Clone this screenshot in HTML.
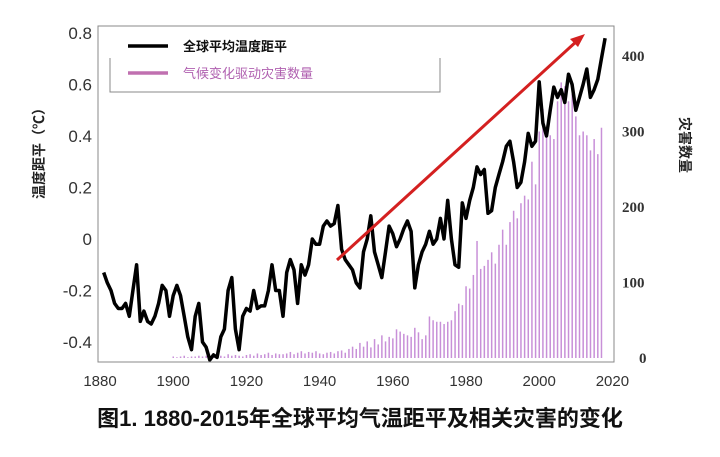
<!DOCTYPE html>
<html><head><meta charset="utf-8"><style>
body{margin:0;background:#fff;width:720px;height:452px;overflow:hidden;font-family:"Liberation Sans","Noto Sans CJK SC",sans-serif}
</style></head><body>
<svg width="720" height="452" xmlns="http://www.w3.org/2000/svg">
<g id="bars"></g>
<polyline id="temp" fill="none" stroke="#000" stroke-width="3.5" stroke-linejoin="round"/>
<line x1="337" y1="260" x2="578" y2="40" stroke="#d42020" stroke-width="3"/>
<polygon points="585,34 570,39 578,47" fill="#d42020"/>
<path d="M98,26 H614 V362 H98 Z" fill="none" stroke="#888" stroke-width="1"/>
<path d="M110,58 V92 H440 V58" fill="none" stroke="#888" stroke-width="1"/>
<line x1="128" y1="46" x2="168" y2="46" stroke="#000" stroke-width="3.5"/>
<text x="183" y="51" font-size="13" font-weight="bold" fill="#111" font-family="Noto Sans CJK SC,sans-serif">全球平均温度距平</text>
<line x1="128" y1="73" x2="168" y2="73" stroke="#c070b0" stroke-width="3.5"/>
<text x="183" y="78" font-size="13" fill="#b060b0" font-family="Noto Sans CJK SC,sans-serif">气候变化驱动灾害数量</text>
<g id="yl" font-size="17" fill="#333" text-anchor="end"></g>
<g id="yr" font-size="15" fill="#333" font-weight="bold" font-family="Liberation Serif,serif"></g>
<g id="xl" font-size="15" fill="#333" text-anchor="middle"></g>
<text transform="translate(44,150) rotate(-90)" text-anchor="middle" font-size="14" font-weight="bold" fill="#222" font-family="Noto Sans CJK SC,sans-serif">温度距平（℃）</text>
<text transform="translate(680,145) rotate(90)" text-anchor="middle" font-size="14" font-weight="bold" fill="#222" font-family="Noto Sans CJK SC,sans-serif">灾害数量</text>
<text x="360" y="426" text-anchor="middle" font-size="22" font-weight="bold" fill="#111" font-family="Liberation Sans,Noto Sans CJK SC,sans-serif">图1. 1880-2015年全球平均气温距平及相关灾害的变化</text>
</svg>
<script>
const tempStart=1881;
const tempValues=[-0.13,-0.17,-0.2,-0.25,-0.27,-0.27,-0.25,-0.3,-0.2,-0.1,
-0.32,-0.28,-0.32,-0.33,-0.3,-0.25,-0.18,-0.2,-0.3,-0.22,
-0.18,-0.22,-0.3,-0.38,-0.43,-0.3,-0.25,-0.4,-0.42,-0.47,
-0.45,-0.46,-0.38,-0.35,-0.2,-0.15,-0.35,-0.43,-0.3,-0.27,
-0.28,-0.2,-0.27,-0.26,-0.26,-0.2,-0.1,-0.2,-0.2,-0.3,
-0.13,-0.08,-0.12,-0.25,-0.1,-0.14,-0.1,0.0,-0.02,-0.02,
0.05,0.07,0.05,0.06,0.13,
-0.04,-0.08,-0.1,-0.12,-0.17,-0.19,-0.05,0.0,0.09,-0.05,
-0.1,-0.15,-0.05,0.05,0.02,-0.03,0.0,0.04,0.07,0.03,
-0.19,-0.1,-0.05,-0.02,0.03,-0.02,0.0,0.08,0.0,0.15,
0.0,-0.1,-0.11,0.14,0.08,0.15,0.2,0.28,0.25,0.27,
0.1,0.11,0.2,0.25,0.3,0.36,0.38,0.3,0.2,0.22,
0.3,0.41,0.36,0.38,0.61,0.45,0.4,0.5,0.59,0.55,
0.58,0.53,0.64,0.6,0.5,0.55,0.6,0.66,0.55,0.58,
0.62,0.7,0.78];
const disasterStart=1900;
const disasterValues=[2,1,2,3,1,2,2,3,2,3,3,2,4,3,2,5,3,4,3,2,4,5,3,6,4,5,7,4,6,5,5,6,8,5,7,9,6,8,7,9,6,5,7,8,6,9,10,7,12,15,
12,20,15,22,14,25,18,30,22,28,26,38,35,32,30,28,40,34,25,30,55,50,48,48,45,48,50,62,72,70,
95,92,110,155,118,122,130,140,125,150,170,150,180,195,185,205,215,210,260,230,
300,330,300,295,290,340,365,360,340,350,320,295,300,295,275,290,270,305];
const leftTicks=[0.8,0.6,0.4,0.2,0,-0.2,-0.4];
const leftTickLabels=["0.8","0.6","0.4","0.2","0","-0.2","-0.4"];
const rightTicks=[400,300,200,100,0];
const xTicks=[1880,1900,1920,1940,1960,1980,2000,2020];
const NS='http://www.w3.org/2000/svg';
const x=yr=>100+(yr-1880)*3.66;
const yL=v=>239-v*257.5;
const yR=v=>358-v*0.755;
const bars=document.getElementById('bars');
disasterValues.forEach((v,i)=>{const r=document.createElementNS(NS,'rect');
r.setAttribute('x',x(disasterStart+i)-0.7);r.setAttribute('y',yR(v));r.setAttribute('width',1.5);r.setAttribute('height',358-yR(v));
r.setAttribute('fill','#c890d8');


bars.appendChild(r);});
document.getElementById('temp').setAttribute('points',tempValues.map((v,i)=>x(tempStart+i).toFixed(1)+','+yL(v).toFixed(1)).join(' '));
const yl=document.getElementById('yl');
leftTicks.forEach((t,i)=>{const e=document.createElementNS(NS,'text');e.setAttribute('x',92);e.setAttribute('y',yL(t)+6);e.textContent=leftTickLabels[i];


yl.appendChild(e);});
const yr=document.getElementById('yr');
rightTicks.forEach(t=>{const e=document.createElementNS(NS,'text');e.setAttribute('x',t===0?639:622);e.setAttribute('y',yR(t)+5);e.textContent=t;


yr.appendChild(e);});
const xl=document.getElementById('xl');
xTicks.forEach(t=>{const e=document.createElementNS(NS,'text');e.setAttribute('x',x(t));e.setAttribute('y',386);e.textContent=t;


xl.appendChild(e);});
</script>
</body></html>
